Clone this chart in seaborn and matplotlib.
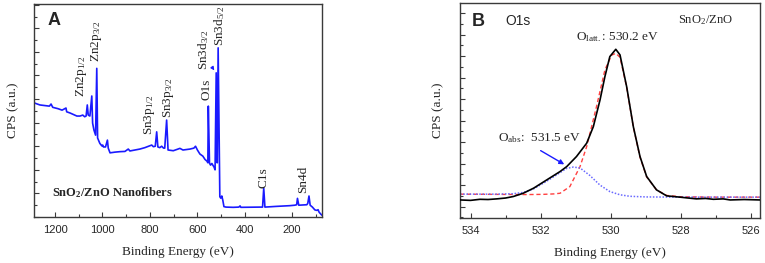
import numpy as np
import pandas as pd
import matplotlib
matplotlib.use("Agg")
import matplotlib.pyplot as plt
from matplotlib.ticker import MultipleLocator, NullFormatter
import seaborn as sns

# ---------------- data ----------------
# Panel A: survey spectrum (binding energy eV, intensity a.u.)
survey_energy = [1289, 1264, 1224, 1217, 1210, 1187, 1170.5, 1154, 1151, 1137, 1108, 1095, 1083, 1075,
                 1069, 1064, 1060, 1053, 1045, 1041.5, 1036, 1029, 1024, 1020.5, 1011, 1002, 999, 995.6,
                 987, 979, 975.5, 968, 947, 926, 905, 891, 884, 863, 842, 821, 792, 785, 777, 771, 766,
                 758, 750, 742, 737, 729, 723, 701, 681, 673, 660, 630.5, 614, 607, 599, 588.5, 576,
                 567, 559, 555, 553, 548, 543.6, 538, 534, 529, 524.5, 519.7, 516, 515, 511.5, 504.4,
                 500.6, 496, 492, 487, 478.6, 448, 424, 419, 415.5, 335, 324, 319, 314, 266, 209, 188,
                 180, 176.6, 171, 137, 133, 128, 123, 113.5, 103, 94, 89.6, 85, 74]
survey_cps = [4.84, 4.75, 4.70, 4.79, 4.65, 4.59, 4.53, 4.62, 4.46, 4.41, 4.28, 4.28, 4.32, 4.25, 4.28,
              4.75, 4.32, 4.28, 5.13, 3.98, 3.69, 3.47, 6.30, 3.35, 3.12, 3.01, 3.05, 2.97, 2.97, 3.26,
              2.92, 2.72, 2.75, 2.77, 2.78, 2.88, 2.80, 2.84, 2.88, 2.94, 3.05, 2.98, 3.00, 3.61, 2.97,
              2.94, 3.00, 2.92, 2.92, 4.11, 2.84, 2.81, 2.88, 2.91, 2.84, 2.88, 2.92, 3.00, 2.84, 2.67,
              2.58, 2.44, 2.37, 2.30, 4.70, 2.28, 2.20, 2.27, 2.20, 2.12, 2.00, 6.11, 2.30, 2.30, 7.17,
              0.86, 0.80, 0.89, 0.72, 0.44, 0.42, 0.41, 0.42, 0.47, 0.41, 0.42, 0.42, 1.22, 0.42, 0.45,
              0.48, 0.50, 0.52, 0.79, 0.50, 0.52, 0.58, 0.89, 0.50, 0.42, 0.30, 0.28, 0.31, 0.20, 0.08]

# Panel B: O1s high resolution
o1s_energy = [534.3, 534.0, 533.73, 533.5, 533.25, 533.0, 532.78, 532.5, 532.2, 531.83, 531.45,
              531.26, 530.98, 530.69, 530.5, 530.31, 530.17, 530.03, 529.86, 529.74, 529.55,
              529.36, 529.17, 528.98, 528.7, 528.41, 528.03, 527.8, 527.56, 527.3, 527.08,
              526.8, 526.6, 526.2, 525.75]
o1s_measured = [0.31, 0.29, 0.34, 0.33, 0.36, 0.40, 0.47, 0.62, 0.86, 1.24, 1.63,
                1.86, 2.33, 2.95, 3.72, 4.96, 6.05, 6.98, 7.32, 7.06, 5.58,
                3.72, 2.33, 1.40, 0.78, 0.50, 0.44, 0.40, 0.36, 0.38, 0.34,
                0.36, 0.31, 0.33, 0.31]
latt_energy = [534.3, 533.35, 532.4, 531.93, 531.64, 531.45, 531.17, 530.88, 530.69, 530.41,
               530.17, 529.98, 529.86, 529.74, 529.55, 529.36, 529.17, 528.98, 528.7, 528.41,
               528.03, 527.56, 527.08, 525.75]
latt_fit = [0.58, 0.57, 0.56, 0.57, 0.59, 0.62, 0.93, 1.86, 2.79, 4.65, 6.36, 7.05,
            7.13, 6.95, 5.55, 3.70, 2.30, 1.38, 0.78, 0.52, 0.46, 0.45, 0.44, 0.44]
abs_energy = [534.3, 533.73, 533.25, 532.78, 532.5, 532.21, 531.83, 531.45, 531.26, 531.07,
              530.88, 530.6, 530.31, 530.03, 529.74, 529.46, 528.98, 528.03, 525.75]
abs_fit = [0.58, 0.58, 0.58, 0.60, 0.66, 0.82, 1.18, 1.58, 1.78, 1.84, 1.80, 1.45,
           1.00, 0.70, 0.55, 0.48, 0.45, 0.44, 0.44]

# peak labels of panel A: (text, energy, intensity at text bottom)
peak_labels = ["Zn2p$_{1/2}$", "Zn2p$_{3/2}$", "Sn3p$_{1/2}$", "Sn3p$_{3/2}$", "O1s",
               "Sn3d$_{3/2}$", "Sn3d$_{5/2}$", "C1s", "Sn4d"]
peak_label_x = [1088, 1024, 800, 722, 559, 571, 506, 319, 153]
peak_label_y = [5.08, 6.57, 3.47, 4.19, 4.96, 6.23, 7.25, 1.25, 1.00]

# ---------------- style ----------------
sns.set_theme(style="ticks")
plt.rcParams["font.family"] = ["Liberation Sans", "DejaVu Sans"]
plt.rcParams["mathtext.fontset"] = "custom"
plt.rcParams["mathtext.rm"] = "Liberation Serif"
plt.rcParams["mathtext.it"] = "Liberation Serif:italic"
plt.rcParams["mathtext.bf"] = "Liberation Serif:bold"

SERIF = ["Liberation Serif", "DejaVu Serif"]
SANS = ["Liberation Sans", "DejaVu Sans"]

fig = plt.figure(figsize=(7.65, 2.63), dpi=100)
W, H = 765, 263
axA = fig.add_axes([34 / W, 46 / H, 288 / W, 213 / H])
axB = fig.add_axes([460 / W, 45 / H, 300 / W, 214.7 / H])

def style_axes(ax, xmaj, xmin, ylabelpad):
    for s in ax.spines.values():
        s.set_color("#3a3a3a")
        s.set_linewidth(1.0)
    ax.xaxis.set_major_locator(MultipleLocator(xmaj))
    ax.xaxis.set_minor_locator(MultipleLocator(xmin))
    ax.yaxis.set_major_locator(MultipleLocator(1))
    ax.yaxis.set_minor_locator(MultipleLocator(0.5))
    ax.yaxis.set_major_formatter(NullFormatter())
    ax.tick_params(axis="both", which="major", direction="in", length=3.5, width=0.8,
                   color="#3a3a3a", labelsize=8, pad=5.5)
    ax.tick_params(axis="both", which="minor", direction="in", length=2, width=0.8, color="#3a3a3a")
    ax.tick_params(axis="y", which="both", left=True, right=False)
    ax.tick_params(axis="x", which="both", bottom=True, top=False)
    for lab in ax.get_xticklabels():
        lab.set_family(SANS)
    ax.set_xlabel("Binding Energy (eV)", family=SERIF, fontsize=9.5, labelpad=8.5)
    ax.set_ylabel("CPS (a.u.)", family=SERIF, fontsize=9.5, labelpad=ylabelpad)

# ---------------- panel A ----------------
dfA = pd.DataFrame({"E": survey_energy, "I": survey_cps})
sns.lineplot(data=dfA, x="E", y="I", ax=axA, color="#1a1aff", linewidth=1.2,
             sort=False, estimator=None)
axA.set_xlim(1289, 73)
axA.set_ylim(0, 9.03)
style_axes(axA, 200, 100, 5)

for t, x, y in zip(peak_labels, peak_label_x, peak_label_y):
    axA.text(x, y, t, rotation=90, ha="center", va="bottom", family=SERIF, fontsize=9.5)
axA.annotate("", xy=(521, 6.12), xytext=(544, 6.45),
             arrowprops=dict(arrowstyle="-|>", color="#1a1aff", lw=0.8, mutation_scale=5))
axA.text(1230, 8.7, "A", family=SANS, fontweight="bold", fontsize=13, ha="left", va="top")
axA.text(1211, 1.02, "SnO$_{\\mathbf{2}}$/ZnO Nanofibers", family=SERIF, fontweight="bold",
         fontsize=9, ha="left", va="center")

# ---------------- panel B ----------------
dfM = pd.DataFrame({"E": o1s_energy, "I": o1s_measured})
dfL = pd.DataFrame({"E": latt_energy, "I": latt_fit})
dfA2 = pd.DataFrame({"E": abs_energy, "I": abs_fit})
sns.lineplot(data=dfL, x="E", y="I", ax=axB, color="#ff4040", linewidth=1.0,
             linestyle=(0, (3, 2)), sort=False, estimator=None, zorder=2)
sns.lineplot(data=dfA2, x="E", y="I", ax=axB, color="#6a6aff", linewidth=1.1,
             linestyle=(0, (1, 1.1)), sort=False, estimator=None, zorder=2)
sns.lineplot(data=dfM, x="E", y="I", ax=axB, color="black", linewidth=1.2,
             sort=False, estimator=None, zorder=3)
axB.set_xlim(534.3, 525.75)
axB.set_ylim(-0.53, 9.46)
style_axes(axB, 2, 1, 6)

axB.text(533.97, 9.0, "B", family=SANS, fontweight="bold", fontsize=13, ha="left", va="top")
axB.text(533.02, 8.64, "O1s", family=SANS, fontsize=10, ha="left", va="center")
axB.text(527.3, 8.68, "SnO$_{2}$/ZnO", family=SERIF, fontsize=9, ha="center", va="center")
axB.text(529.8, 7.9, "O$_{\\mathrm{latt.}}$: 530.2 eV", family=SERIF, fontsize=9.5,
         ha="center", va="center")
axB.text(532.02, 3.2, "O$_{\\mathrm{abs}}$:  531.5 eV", family=SERIF, fontsize=9.5,
         ha="center", va="center")
axB.annotate("", xy=(531.26, 1.9), xytext=(532.07, 2.67),
             arrowprops=dict(arrowstyle="-|>", color="#1a1aff", lw=1.0, mutation_scale=7))

fig.savefig("out.png", dpi=100)
